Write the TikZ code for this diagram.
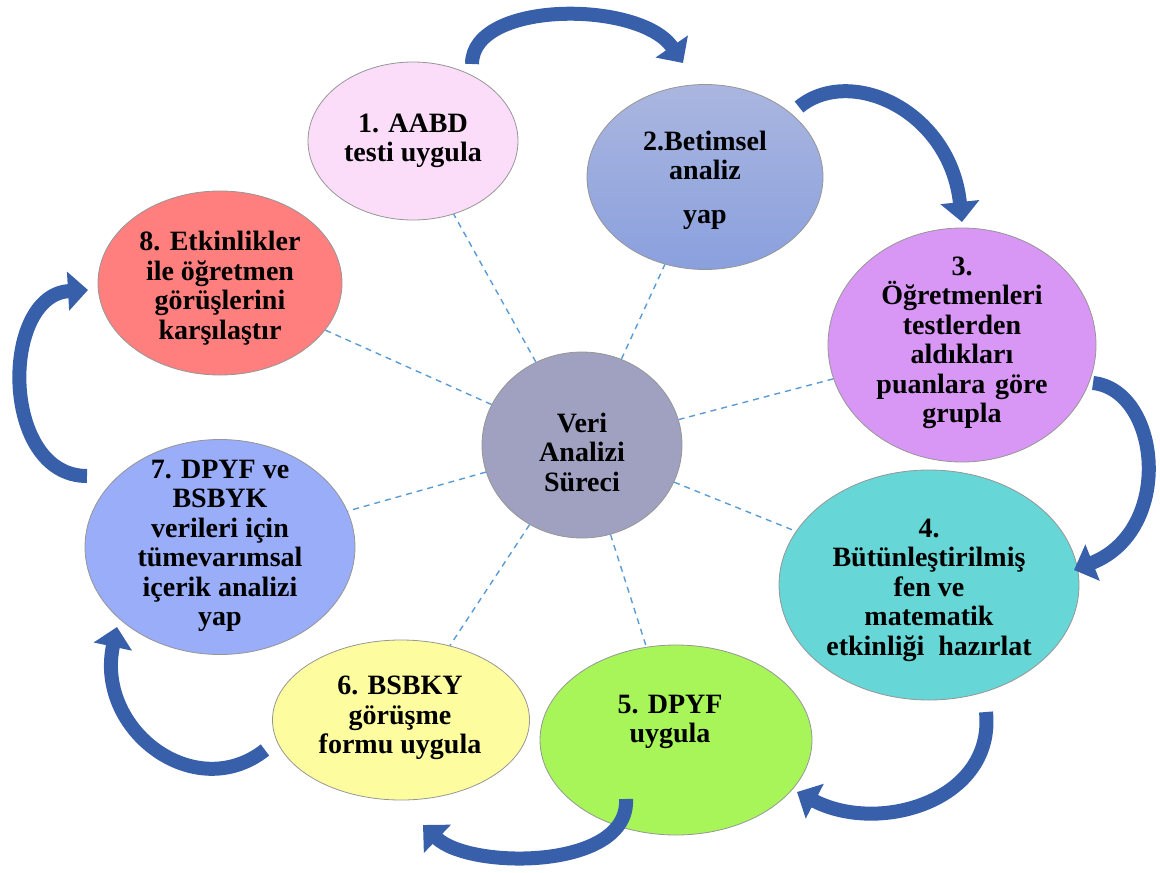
\documentclass[tikz,border=0pt]{standalone}
\usepackage{fontspec}
\setmainfont{Liberation Serif}
\usetikzlibrary{shapes.geometric,arrows.meta}
\definecolor{cpink}{RGB}{251,221,249}
\definecolor{cbluetop}{RGB}{170,182,223}
\definecolor{cbluebot}{RGB}{138,160,222}
\definecolor{cpurple}{RGB}{216,150,245}
\definecolor{cteal}{RGB}{102,214,214}
\definecolor{cgreen}{RGB}{168,245,90}
\definecolor{cyellow}{RGB}{253,253,160}
\definecolor{cblue}{RGB}{153,173,249}
\definecolor{cred}{RGB}{255,127,127}
\definecolor{ccenter}{RGB}{160,160,192}
\definecolor{cborder}{RGB}{150,150,150}
\definecolor{cspoke}{RGB}{91,155,213}
\definecolor{carrow}{RGB}{56,96,170}
\begin{document}
\begin{tikzpicture}[x=1pt,y=-1pt,
  bub/.style={ellipse, draw=cborder, line width=0.8pt, inner sep=0pt},
  lbl/.style={align=center, font=\fontsize{28}{29.5}\selectfont\bfseries, inner sep=0pt},
  spoke/.style={draw=cspoke, line width=1.4pt, dash pattern=on 6pt off 5pt},
  flow/.style={draw=carrow, line width=14pt, -{Triangle[width=38pt,length=20pt]}}]
\useasboundingbox (0,0) rectangle (1160,873);

% ellipses
\node[bub, fill=cpink, minimum width=210pt, minimum height=158pt] (e1) at (413,141) {};
\node[bub, top color=cbluetop, bottom color=cbluebot, minimum width=236pt, minimum height=185pt] (e2) at (705,177) {};
\node[bub, fill=cpurple, minimum width=268pt, minimum height=234pt] (e3) at (962,345) {};
\node[bub, fill=cteal, minimum width=300pt, minimum height=230pt] (e4) at (929,585) {};
\node[bub, fill=cgreen, minimum width=272pt, minimum height=190pt] (e5) at (676,740) {};
\node[bub, fill=cyellow, minimum width=257pt, minimum height=160pt] (e6) at (401,720) {};
\node[bub, fill=cblue, minimum width=270pt, minimum height=215pt] (e7) at (220,547) {};
\node[bub, fill=cred, minimum width=244pt, minimum height=184pt] (e8) at (220,283) {};
\node[bub, fill=ccenter, minimum width=200pt, minimum height=186pt] (c) at (582,445) {};

% spokes
\foreach \e in {e1,e2,e3,e4,e5,e6,e7,e8}{\draw[spoke] (c) -- (\e);}

% curved arrows
\coordinate (a1s) at (472,64);  \coordinate (a1e) at (683,63);
\coordinate (a2s) at (799,107); \coordinate (a2e) at (962,222);
\coordinate (a3s) at (1093,383);\coordinate (a3e) at (1074,570);
\coordinate (a4s) at (986,712); \coordinate (a4e) at (797,792);
\coordinate (a5s) at (626,799); \coordinate (a5e) at (423,825);
\coordinate (a6s) at (265,750); \coordinate (a6e) at (117,627);
\coordinate (a7s) at (87,476);  \coordinate (a7e) at (88,290);
\draw[flow] (a1s) .. controls (472,0) and (640,0) .. (a1e);
\draw[flow] (a2s) .. controls (850,65) and (950,110) .. (a2e);
\draw[flow] (a3s) .. controls (1160,390) and (1175,530) .. (a3e);
\draw[flow] (a4s) .. controls (995,800) and (880,835) .. (a4e);
\draw[flow] (a5s) .. controls (630,870) and (470,870) .. (a5e);
\draw[flow] (a6s) .. controls (195,805) and (95,730) .. (a6e);
\draw[flow] (a7s) .. controls (0,476) and (0,295) .. (a7e);

% labels
\node[lbl] (t1) at (413,141) {1. AABD\\testi uygula};
\node[lbl] (t2) at (705,180) {2.Betimsel\\analiz\\[14pt]yap};
\node[lbl] (t3) at (962,343) {3.\\Öğretmenleri\\testlerden\\aldıkları\\puanlara\hspace{0.35em}göre\\grupla};
\node[lbl] (t4) at (929,590) {4.\\Bütünleştirilmiş\\fen ve\\matematik\\etkinliği\hspace{0.5em}hazırlat};
\node[lbl] (t5) at (670,722) {5. DPYF\\uygula};
\node[lbl] (t6) at (400,718) {6. BSBKY\\görüşme\\formu uygula};
\node[lbl] (t7) at (220,546) {7. DPYF ve\\BSBYK\\verileri için\\tümevarımsal\\içerik analizi\\yap};
\node[lbl] (t8) at (220,288) {8. Etkinlikler\\ile öğretmen\\görüşlerini\\karşılaştır};
\node[lbl] (tc) at (582,452) {Veri\\Analizi\\Süreci};
\end{tikzpicture}
\end{document}
